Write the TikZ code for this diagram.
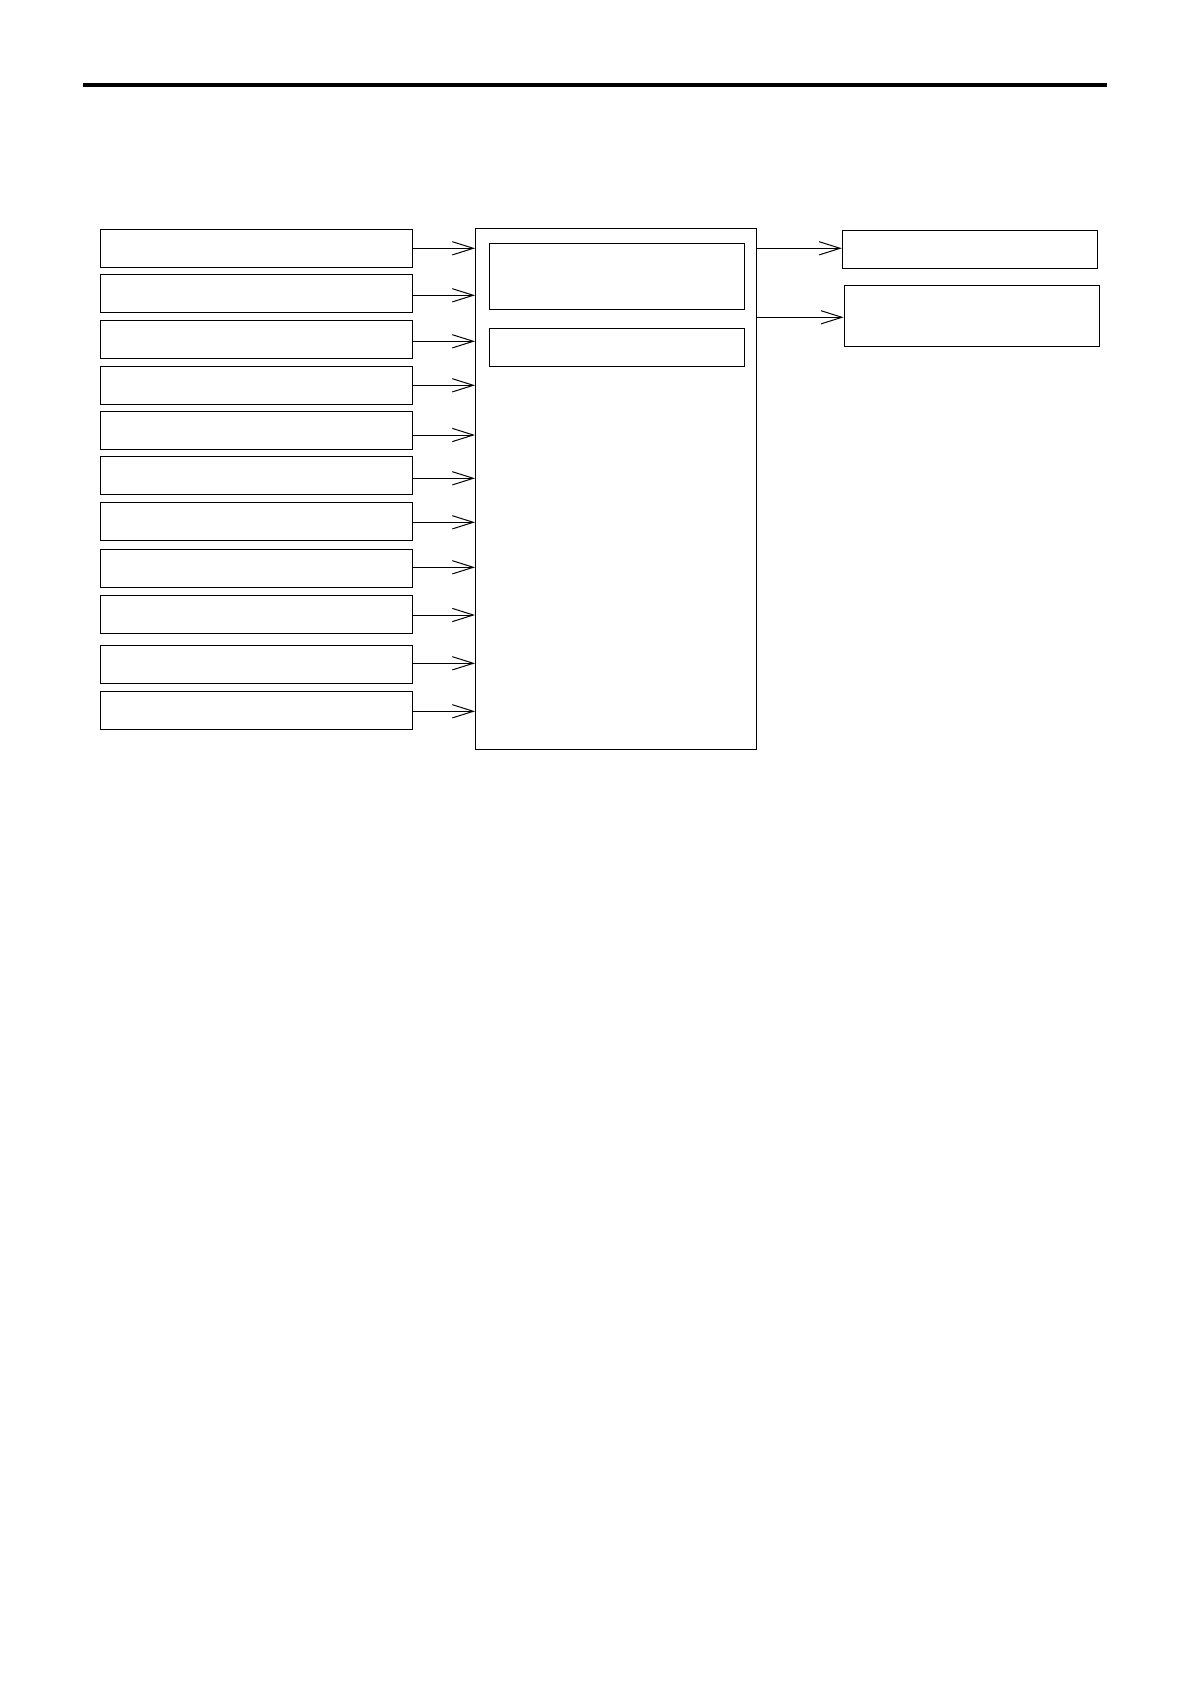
\documentclass[tikz,border=0pt]{standalone}
\usepackage{tikz}
\usetikzlibrary{arrows.meta, positioning, calc}

\begin{document}
\begin{tikzpicture}[x=0.5pt, y=-0.5pt, line width=0.5pt,
    inbox/.style={draw, inner sep=0pt, minimum width=156pt, minimum height=19pt},
    subbox/.style={draw, inner sep=0pt, minimum width=127.5pt},
    outbox/.style={draw, inner sep=0pt, minimum width=127.7pt},
    feed/.style={-{Straight Barb[length=10.5pt, width=6.6pt]}}]
\useasboundingbox (0,0) rectangle (1191,1685);

% Top rule
\coordinate (ruleL) at (83,85);
\coordinate (ruleR) at (1107,85);
\draw[line width=1.75pt] (ruleL) -- (ruleR);

% Central block
\node[draw, inner sep=0pt, minimum width=140.4pt, minimum height=260.5pt] (main) at (615.9,489) {};
\node[subbox, minimum height=33pt] (sub1) at (616.8,276.3) {};
\node[subbox, minimum height=18.85pt] (sub2) at (616.8,347.2) {};

% Input boxes
\foreach \n/\yc/\ay in {1/248.8/248.3, 2/293.3/295.3, 3/339.3/341.3, 4/385.3/385.3,
    5/430.3/435, 6/475.3/478.3, 7/521.3/522.3, 8/568.3/567.3, 9/614.3/615,
    10/664.3/663.3, 11/710.3/711.3} {
    \node[inbox] (in\n) at (256.5,\yc) {};
    \draw[feed] (in\n.east |- 0,\ay) -- (main.west |- 0,\ay);
}

% Output boxes
\node[outbox, minimum height=19pt] (out1) at (970,249.3) {};
\node[outbox, minimum height=30.35pt] (out2) at (971.8,315.7) {};
\draw[feed] (main.east |- 0,248.3) -- (out1.west |- 0,248.3);
\draw[feed] (main.east |- 0,317.3) -- (out2.west |- 0,317.3);
\end{tikzpicture}
\end{document}
